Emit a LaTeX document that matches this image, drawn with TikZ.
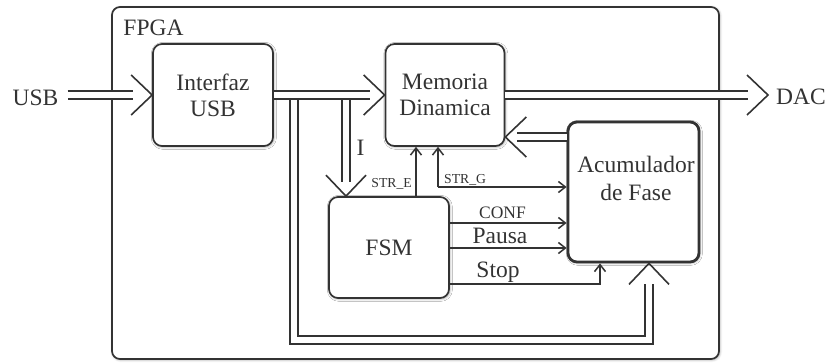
\documentclass[tikz,border=0pt]{standalone}
\usepackage{fontspec}
\setmainfont{Liberation Serif}
\usetikzlibrary{arrows.meta,shadows.blur}
\colorlet{ink}{black!80}
\begin{document}
\begin{tikzpicture}[x=1pt, y=-1pt,
  shadowed/.style={blur shadow={shadow xshift=0.8pt, shadow yshift=-0.8pt,
      shadow blur radius=2.5pt, shadow opacity=40}},
  block/.style={draw=ink, line width=1.7pt, rounded corners=9pt, fill=white,
      shadowed, inner sep=0pt, align=center, text=ink,
      font=\fontsize{23.5}{26}\selectfont},
  bigtxt/.style={text=ink, inner sep=0pt, font=\fontsize{23.5}{26}\selectfont},
  midtxt/.style={text=ink, inner sep=0pt, font=\fontsize{17.5}{20}\selectfont},
  smalltxt/.style={text=ink, inner sep=0pt, font=\fontsize{13.7}{16}\selectfont},
  bus/.style={draw=ink, line width=1.6pt, double=white, double distance=6.9pt},
  sig/.style={draw=ink, line width=1.5pt, -{Straight Barb[length=7pt,width=11pt]}},
  chev/.pic={\draw[ink, line width=1.6pt] (-21,20) -- (0,0) -- (-21,-20);}
]
\useasboundingbox (0,0) rectangle (827,362);

% enclosing FPGA
\node[block, rounded corners=8pt, minimum width=607pt, minimum height=352pt]
  (fpga) at (415.5,183) {};
\node[bigtxt, anchor=base] (fpgalbl) at (153.5,35) {FPGA};

% functional blocks
\node[block, minimum width=120pt, minimum height=102pt] (ifz) at (213,95) {Interfaz\\USB};
\node[block, minimum width=119pt, minimum height=102pt] (mem) at (445,95) {Memoria\\Dinamica};
\node[block, line width=2.8pt, minimum width=131pt, minimum height=140pt] (acu) at (633.5,192) {};
\node[bigtxt, align=center, font=\fontsize{23.5}{28}\selectfont] (acutxt) at (636,178) {Acumulador\\de Fase};
\node[block, minimum width=120pt, minimum height=101pt] (fsm) at (389,247.5) {FSM};

% external ports
\node[bigtxt, anchor=base] (usb) at (35.5,105) {USB};
\node[bigtxt, anchor=base west] (dac) at (776,104) {DAC};

% helper positions for the buses and signals
\coordinate (xloop) at (294,0);
\coordinate (xI) at (346,0);
\coordinate (yloop) at (0,340);
\coordinate (xret) at (649,0);
\coordinate (yfb) at (0,137);
\coordinate (dactip) at (768,0);
\coordinate (xse) at (416,0);
\coordinate (sg) at (438,187);
\coordinate (yconf) at (0,223);
\coordinate (ypau) at (0,248);
\coordinate (ystop) at (0,284);
\coordinate (xstop) at (600,0);

% taps leaving the USB data bus
\draw[bus, shorten >=21pt] (ifz.east -| xloop) -- (xloop |- yloop) -| (acu.south -| xret);
\draw[bus, shorten >=14pt] (ifz.east -| xI) -- (fsm.north -| xI);

% data buses
\draw[bus, shorten >=19pt] (usb.east |- ifz.west) ++(9,0) -- (ifz.west);
\draw[bus, shorten >=15pt] (ifz.east) -- (mem.west);
\draw[bus, shorten >=20pt] (mem.east) -- (mem.east -| dactip);
\draw[bus, shorten >=12pt] (acu.west |- yfb) -- (mem.east |- yfb);

% bus arrowheads
\pic at (ifz.west) {chev};
\pic at (mem.west) {chev};
\pic at (mem.east -| dactip) {chev};
\pic[rotate=180] at (mem.east |- yfb) {chev};
\pic[rotate=-90] at (fsm.north -| xI) {chev};
\pic[rotate=90] at (acu.south -| xret) {chev};
\node[bigtxt, anchor=base] (ilbl) at (360.5,155) {I};

% control signals
\draw[sig] (fsm.north -| xse) -- (mem.south -| xse);
\draw[sig] (sg) -- (mem.south -| sg);
\draw[sig] (sg) -- (acu.west |- sg);
\draw[sig] (fsm.east |- yconf) -- (acu.west |- yconf);
\draw[sig] (fsm.east |- ypau) -- (acu.west |- ypau);
\draw[sig] (fsm.east |- ystop) -| (acu.south -| xstop);

\node[smalltxt, anchor=base east] (stre) at (412,187) {STR\_E};
\node[smalltxt, anchor=base west] (strg) at (444,183) {STR\_G};
\node[midtxt, anchor=base] (conf) at (502.5,218) {CONF};
\node[bigtxt, anchor=base] (pausa) at (500,243) {Pausa};
\node[bigtxt, anchor=base] (stop) at (498,277.5) {Stop};
\end{tikzpicture}
\end{document}
